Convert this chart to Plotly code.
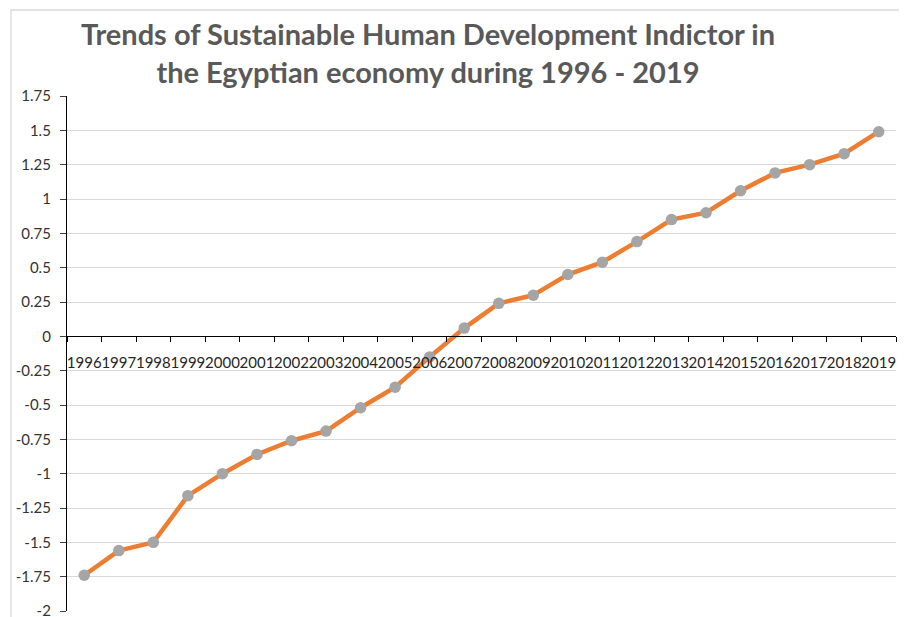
import plotly.graph_objects as go

years = ["1996", "1997", "1998", "1999", "2000", "2001", "2002", "2003",
         "2004", "2005", "2006", "2007", "2008", "2009", "2010", "2011",
         "2012", "2013", "2014", "2015", "2016", "2017", "2018", "2019"]
shdi = [-1.74, -1.56, -1.50, -1.16, -1.00, -0.86, -0.76, -0.69,
        -0.52, -0.37, -0.15, 0.06, 0.24, 0.30, 0.45, 0.54,
        0.69, 0.85, 0.90, 1.06, 1.19, 1.25, 1.33, 1.49]
y_tickvals = [-2, -1.75, -1.5, -1.25, -1, -0.75, -0.5, -0.25,
              0, 0.25, 0.5, 0.75, 1, 1.25, 1.5, 1.75]
y_ticktext = ["-2", "-1.75", "-1.5", "-1.25", "-1", "-0.75", "-0.5", "-0.25",
              "0", "0.25", "0.5", "0.75", "1", "1.25", "1.5", "1.75"]
title_text = ("Trends of Sustainable Human Development Indictor in<br>"
              "the Egyptian economy during 1996 - 2019")

# page body has an 8px default margin: compensate so marks land where intended
OFF = 8
W, H = 907 - OFF, 617 - OFF
ml, mr, mt, mb = 67 - OFF, 11, 96 - OFF, 6
y_min, y_max = -2, 1.75

fig = go.Figure()
fig.add_trace(go.Scatter(
    x=years, y=shdi, mode="lines+markers",
    line=dict(color="#ED7D31", width=4.5),
    marker=dict(color="#A5A5A5", size=11.5),
    showlegend=False, cliponaxis=False,
))

plot_w = W - ml - mr
plot_h = H - mt - mb
# chart-area border (partially visible on left/top)
fig.add_shape(type="rect", xref="paper", yref="paper",
              x0=(11 - OFF - ml) / plot_w, x1=1.2,
              y0=-0.2, y1=(H - mb - (10 - OFF)) / plot_h,
              line=dict(color="#D9D9D9", width=1.3), fillcolor="rgba(0,0,0,0)",
              layer="below")

fig.update_layout(
    width=W, height=H,
    margin=dict(l=ml, r=mr, t=mt, b=mb, autoexpand=False),
    paper_bgcolor="white", plot_bgcolor="white",
    font=dict(family="Lato", size=15, color="#404040"),
    title=dict(text=title_text, x=(428 - OFF) / W, xref="container", xanchor="center",
               y=1 - (45 - OFF) / H, yref="container", yanchor="middle",
               font=dict(family="Lato", size=29, color="#595959", weight="bold")),
    xaxis=dict(type="category", range=[-0.5, 23.5],
               anchor="free", position=(0 - y_min) / (y_max - y_min),
               automargin=False,
               showline=True, linecolor="black", linewidth=1.3,
               showgrid=False, tickson="boundaries",
               ticks="outside", ticklen=5, tickcolor="black", tickwidth=1,
               tickmode="linear", dtick=1, tickangle=0,
               tickfont=dict(family="Lato", size=15, color="#262626"),
               ticklabelstandoff=13),
    yaxis=dict(range=[y_min, y_max], tickmode="array",
               tickvals=y_tickvals, ticktext=y_ticktext,
               automargin=False,
               showline=True, linecolor="black", linewidth=1.3,
               showgrid=True, gridcolor="#D9D9D9", gridwidth=1.3,
               zeroline=False,
               ticks="outside", ticklen=6, tickcolor="#404040", tickwidth=1,
               tickfont=dict(family="Lato", size=15, color="#333333"),
               ticklabelstandoff=6, ticklabeloverflow="allow"),
)

fig.write_html("out.html")
